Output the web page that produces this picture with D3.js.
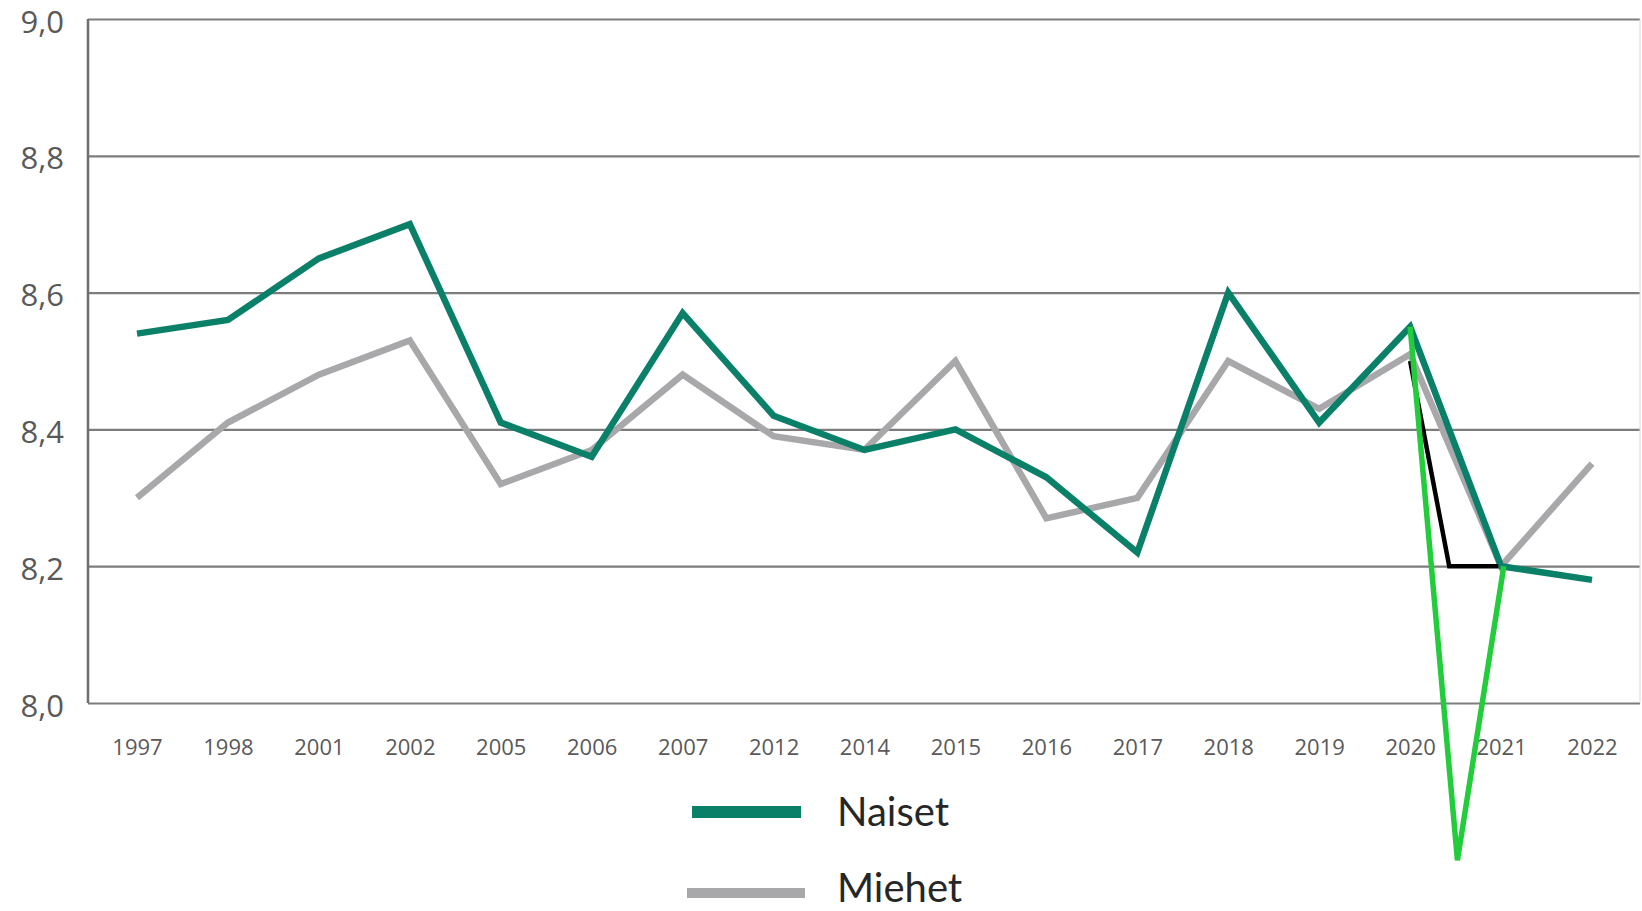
<!DOCTYPE html>
<html>
<head>
<meta charset="utf-8">
<script src="https://cdn.jsdelivr.net/npm/d3@7"></script>
<style>
  body { margin: 0; background: #fff; }
  .ytick text { font-family: "Open Sans", sans-serif; font-size: 31px; fill: #595959; }
  .xtick text { font-family: "Open Sans", sans-serif; font-size: 22px; fill: #595959; }
  .legend text { font-family: Lato, "Open Sans", sans-serif; font-size: 40px; fill: #262626; }
</style>
</head>
<body>
<div id="chart"></div>
<script>
// years on the x axis
var years = ["1997", "1998", "2001", "2002", "2005", "2006", "2007", "2012", "2014",
  "2015", "2016", "2017", "2018", "2019", "2020", "2021", "2022"];

// Naiset (women)
var naiset = [8.54, 8.56, 8.65, 8.70, 8.41, 8.36, 8.57, 8.42, 8.37,
  8.40, 8.33, 8.22, 8.60, 8.41, 8.55, 8.20, 8.18];

// Miehet (men)
var miehet = [8.30, 8.41, 8.48, 8.53, 8.32, 8.37, 8.48, 8.39, 8.37,
  8.50, 8.27, 8.30, 8.50, 8.43, 8.51, 8.20, 8.35];

// hand drawn marks between 2020 and 2021 (index position, value)
var blackIdx = [14.0, 14.43, 14.97];
var blackVal = [8.50, 8.20, 8.20];
var brightIdx = [14.0, 14.52, 15.03];
var brightVal = [8.55, 7.77, 8.20];

var yTicks = [8.0, 8.2, 8.4, 8.6, 8.8, 9.0];
var legendNames = ["Naiset", "Miehet"];

var W = 1642, H = 911;
var margin = { top: 19, right: 2, bottom: 208, left: 88 };
var width = W - margin.left - margin.right,
  height = H - margin.top - margin.bottom;

var svg = d3.select("#chart").append("svg")
  .attr("width", W)
  .attr("height", H);

var g = svg.append("g")
  .attr("transform", "translate(" + margin.left + "," + margin.top + ")");

var xPoint = d3.scalePoint()
  .domain(years)
  .range([49, 1504]);

// same positions by index, for the in-between marks
var xIdx = d3.scaleLinear()
  .domain([0, years.length - 1])
  .range(xPoint.range());

var yScale = d3.scaleLinear()
  .domain([8.0, 9.0])
  .range([height, 0]);

// gridlines + y labels
var yAxis = d3.axisLeft(yScale)
  .tickValues(yTicks)
  .tickSize(-width)
  .tickPadding(24)
  .tickFormat(d => d3.format(".1f")(d).replace(".", ","));

var ya = g.append("g").attr("class", "ytick").call(yAxis);
ya.select(".domain").remove();
ya.selectAll(".tick line")
  .attr("stroke", "#7c7c7c")
  .attr("stroke-width", 2.2);
ya.selectAll(".tick text").attr("dy", "0.42em");

// left frame line and faint right frame
g.append("line")
  .attr("x1", 0).attr("x2", 0)
  .attr("y1", 0).attr("y2", height)
  .attr("stroke", "#6e6e6e")
  .attr("stroke-width", 2.5);
g.append("line")
  .attr("x1", width).attr("x2", width)
  .attr("y1", 0).attr("y2", height)
  .attr("stroke", "#d9d9d9")
  .attr("stroke-width", 1);

// x labels
var xAxis = d3.axisBottom(xPoint).tickSize(0).tickPadding(36);
var xa = g.append("g").attr("class", "xtick")
  .attr("transform", "translate(0," + height + ")")
  .call(xAxis);
xa.select(".domain").remove();

var line = d3.line()
  .x((d, i) => xIdx(i))
  .y(d => yScale(d));

g.append("path")
  .datum(miehet)
  .attr("fill", "none")
  .attr("stroke", "#a8a8ab")
  .attr("stroke-width", 6.5)
  .attr("stroke-linejoin", "miter")
  .attr("d", line);

g.append("path")
  .datum(naiset)
  .attr("fill", "none")
  .attr("stroke", "#0b8068")
  .attr("stroke-width", 6.5)
  .attr("stroke-linejoin", "miter")
  .attr("d", line);

var markLine = d3.line()
  .x(d => xIdx(d[0]))
  .y(d => yScale(d[1]));

g.append("path")
  .datum(d3.zip(blackIdx, blackVal))
  .attr("fill", "none")
  .attr("stroke", "#000")
  .attr("stroke-width", 4.5)
  .attr("d", markLine);

g.append("path")
  .datum(d3.zip(brightIdx, brightVal))
  .attr("fill", "none")
  .attr("stroke", "#22cc3a")
  .attr("stroke-width", 5.5)
  .attr("d", markLine);

// legend
var legend = svg.append("g").attr("class", "legend");
var legColors = ["#0b8068", "#a8a8ab"];
var legY = [812, 893];
legendNames.forEach(function(name, i) {
  legend.append("line")
    .attr("x1", i == 0 ? 692 : 687)
    .attr("x2", i == 0 ? 801 : 805)
    .attr("y1", legY[i]).attr("y2", legY[i])
    .attr("stroke", legColors[i])
    .attr("stroke-width", i == 0 ? 12 : 10);
  legend.append("text")
    .attr("x", 837)
    .attr("y", legY[i] + (i == 0 ? 14 : 9))
    .text(name);
});
</script>
</body>
</html>
